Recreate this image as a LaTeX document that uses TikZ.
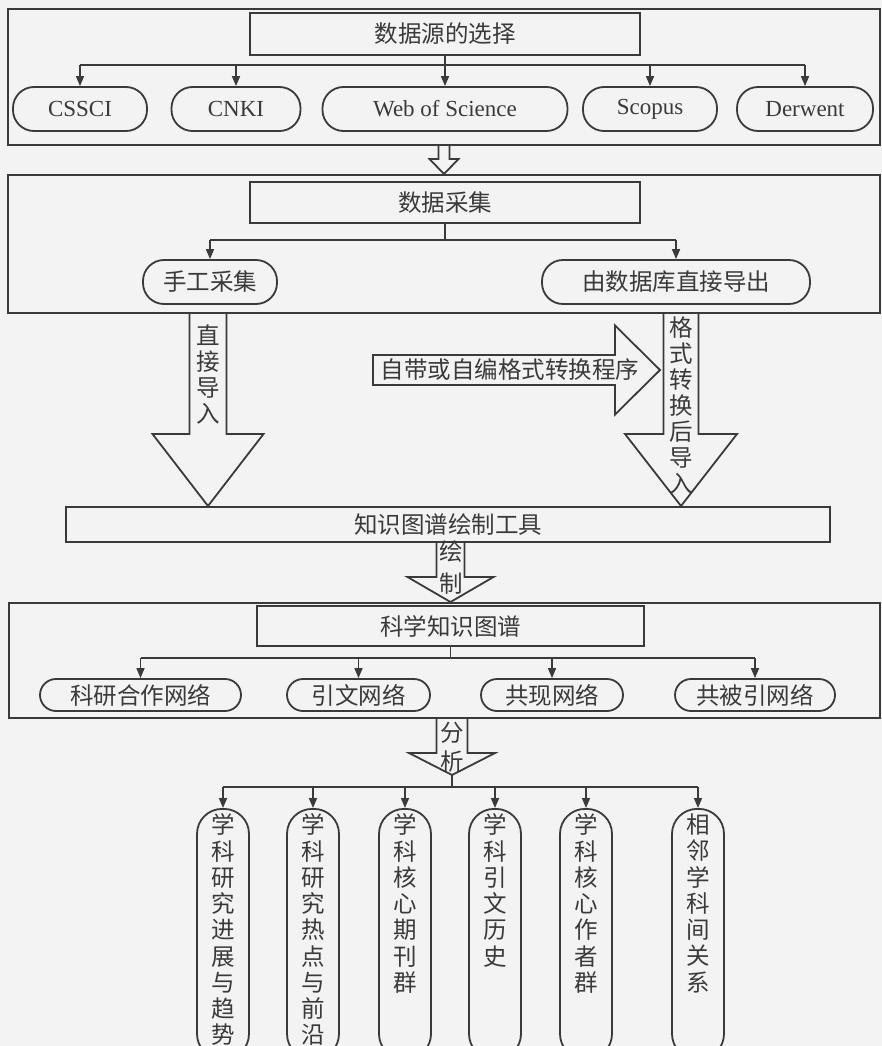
\documentclass[tikz,border=0pt]{standalone}
\usepackage{fontspec}
\setmainfont{Liberation Serif}
\newfontfamily\cjk{Noto Sans CJK SC}
\usetikzlibrary{arrows.meta,calc}
\definecolor{ink}{HTML}{3A3A3A}
\definecolor{bg}{HTML}{F3F3F3}
\newcommand\hollowdown[5]{\draw[line] let \p1=(#1),\p2=(#2) in (\x1-#3pt,\y1) -- (\x1-#3pt,\y2+#5pt) -- (\x1-#4pt,\y2+#5pt) -- (\x1,\y2) -- (\x1+#4pt,\y2+#5pt) -- (\x1+#3pt,\y2+#5pt) -- (\x1+#3pt,\y1);}
\newcommand\vtext[1]{\parbox[t][240pt][t]{26pt}{\centering #1}}
\begin{document}
\begin{tikzpicture}[x=1pt,y=-1pt,
  line/.style={draw=ink,line width=1.8pt,line join=miter},
  arr/.style={draw=ink,line width=1.6pt,-{Triangle[length=10pt,width=8pt]}},
  frame/.style={draw=ink,line width=2pt,rectangle,inner sep=0pt},
  cjkfont/.style={font=\cjk\fontsize{23.5}{26}\selectfont,text=ink},
  box/.style={draw=ink,line width=2pt,rectangle,inner sep=0pt,cjkfont},
  hpill/.style={draw=ink,line width=1.8pt,rectangle,rounded corners=21pt,inner sep=0pt,minimum height=44pt,text=ink,font=\rmfamily\fontsize{23}{26}\selectfont},
  hpillc/.style={draw=ink,line width=1.8pt,rectangle,rounded corners=21pt,inner sep=0pt,minimum height=44pt,cjkfont},
  npill/.style={draw=ink,line width=1.8pt,rectangle,rounded corners=16pt,inner sep=0pt,minimum height=32pt,cjkfont},
  vpill/.style={draw=ink,line width=1.8pt,rectangle,rounded corners=25pt,minimum width=52pt,inner xsep=0pt,inner ysep=5pt,anchor=north,text=ink,font=\cjk\fontsize{23.5}{26.25}\selectfont},
  vlab/.style={align=center,inner sep=0pt,text=ink,font=\cjk\fontsize{23.5}{26}\selectfont},
  lab/.style={inner sep=0pt,cjkfont}
]
\path[use as bounding box] (0,0) rectangle (882,1046);
\clip (0,0) rectangle (882,1046);
\fill[bg] (0,0) rectangle (882,1046);

% ---------- section 1
\node[frame,minimum width=872pt,minimum height=136pt] (f1) at (444,77) {};
\node[box,minimum width=390pt,minimum height=42pt] (src) at (445,34) {数据源的选择};
\node[hpill,minimum width=134pt] (cssci) at (80,109) {CSSCI};
\node[hpill,minimum width=129pt] (cnki) at (236,109) {CNKI};
\node[hpill,minimum width=245pt] (wos) at (445,109) {Web of Science};
\node[hpill,minimum width=134pt] (scopus) at (650,109) {Scopus};
\node[hpill,minimum width=136pt] (derwent) at (805,109) {Derwent};
\coordinate (bus1) at (445,65);
\draw[line] (src.south) -- (bus1);
\draw[line] (bus1 -| cssci.north) -- (bus1 -| derwent.north);
\foreach \n in {cssci,cnki,wos,scopus,derwent} \draw[arr] (bus1 -| \n.north) -- (\n.north);

% ---------- section 2
\node[frame,minimum width=872pt,minimum height=138pt] (f2) at (444,244) {};
\hollowdown{f1.south}{f1.south |- f2.north}{5.5}{14.5}{15}
\node[box,minimum width=390pt,minimum height=41pt] (acq) at (445,202.5) {数据采集};
\node[hpillc,minimum width=134pt] (hand) at (210,282) {手工采集};
\node[hpillc,minimum width=268pt] (db) at (676,282) {由数据库直接导出};
\coordinate (bus2) at (445,240);
\draw[line] (acq.south) -- (bus2);
\draw[line] (bus2 -| hand.north) -- (bus2 -| db.north);
\foreach \n in {hand,db} \draw[arr] (bus2 -| \n.north) -- (\n.north);

% ---------- tool
\node[box,minimum width=764pt,minimum height=35pt] (tool) at (448,524.5) {知识图谱绘制工具};
\coordinate (la) at (208,313);
\coordinate (ra) at (681,313);
\hollowdown{la}{la |- tool.north}{18.5}{55.5}{72}
\hollowdown{ra}{ra |- tool.north}{17.5}{56}{72}
\node[vlab] (lt) at (208,374) {直\\接\\导\\入};
\node[vlab] (rt) at (681,405) {格\\式\\转\\换\\后\\导\\入};
\coordinate (cs) at (373,370);
\coordinate (ce) at (660,370);
\draw[line] let \p1=(cs),\p2=(ce) in (\x1,\y1+15pt) -- (\x2-45pt,\y1+15pt) -- (\x2-45pt,\y1+44.5pt) -- (\x2,\y1) -- (\x2-45pt,\y1-44.5pt) -- (\x2-45pt,\y1-15pt) -- (\x1,\y1-15pt) -- cycle;
\node[lab] (conv) at (510,370) {自带或自编格式转换程序};

% ---------- section 3
\node[frame,minimum width=871pt,minimum height=115pt] (f3) at (444.5,660.5) {};
\node[box,minimum width=387pt,minimum height=40pt] (sci) at (450.5,626) {科学知识图谱};
\hollowdown{sci.north |- tool.south}{sci.north |- f3.north}{14}{43}{25}
\node[vlab,font=\cjk\fontsize{23.5}{32}\selectfont] (draw) at (451,568) {绘\\制};
\node[npill,minimum width=201pt] (n1) at (140.5,695) {科研合作网络};
\node[npill,minimum width=143pt] (n2) at (358.5,695) {引文网络};
\node[npill,minimum width=142pt] (n3) at (552,695) {共现网络};
\node[npill,minimum width=160pt] (n4) at (755,695) {共被引网络};
\coordinate (bus3) at (450.5,658);
\draw[line] (sci.south) -- (bus3);
\draw[line] (bus3 -| n1.north) -- (bus3 -| n4.north);
\foreach \n in {n1,n2,n3,n4} \draw[arr] (bus3 -| \n.north) -- (\n.north);

% ---------- analysis
\coordinate (fa) at (452,718);
\coordinate (fb) at (452,775);
\hollowdown{fa}{fb}{15.5}{43}{22}
\node[vlab,font=\cjk\fontsize{23.5}{29}\selectfont] (ana) at (452,747.5) {分\\析};
\coordinate (bus4) at (452,787);
\draw[line] (fb) -- (bus4);
\node[vpill] (r1) at (223,808) {\vtext{学\\科\\研\\究\\进\\展\\与\\趋\\势}};
\node[vpill] (r2) at (313,808) {\vtext{学\\科\\研\\究\\热\\点\\与\\前\\沿}};
\node[vpill] (r3) at (405,808) {\vtext{学\\科\\核\\心\\期\\刊\\群}};
\node[vpill] (r4) at (495,808) {\vtext{学\\科\\引\\文\\历\\史}};
\node[vpill] (r5) at (586,808) {\vtext{学\\科\\核\\心\\作\\者\\群}};
\node[vpill] (r6) at (698,808) {\vtext{相\\邻\\学\\科\\间\\关\\系}};
\draw[line] (bus4 -| r1.north) -- (bus4 -| r6.north);
\foreach \n in {r1,r2,r3,r4,r5,r6} \draw[arr] (bus4 -| \n.north) -- (\n.north);
\end{tikzpicture}
\end{document}
